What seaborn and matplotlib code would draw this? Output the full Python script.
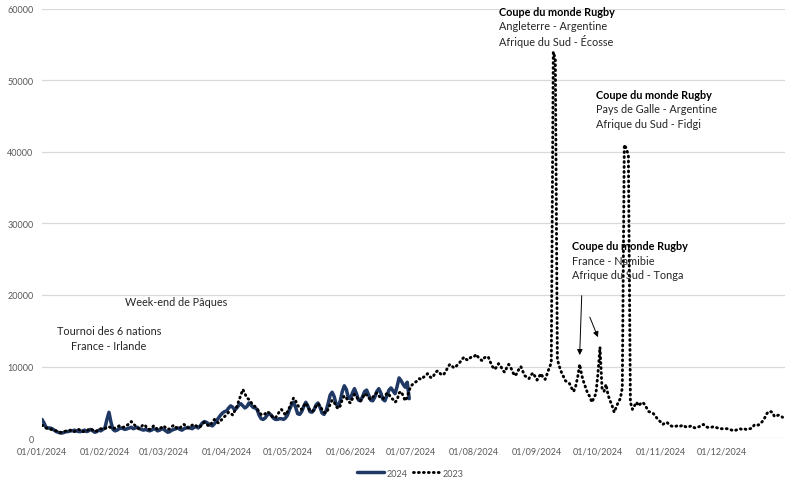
import pandas as pd
import numpy as np
import seaborn as sns
import matplotlib.pyplot as plt
import matplotlib.dates as mdates
from matplotlib.lines import Line2D

# daily values, one list per month (2024 axis)
v2024_jan = [2600, 2100, 1500, 1400, 1400, 1300, 1100, 900, 800, 700, 700, 800, 900, 900, 1000, 1000,
             1100, 1000, 900, 900, 1000, 1100, 900, 1000, 1200, 1000, 800, 900, 1100, 1000, 1200]
v2024_feb = [1400, 2600, 3600, 2200, 1200, 1000, 1100, 1300, 1400, 1300, 1200, 1300, 1400, 1500, 1300,
             1400, 1500, 1300, 1200, 1100, 1200, 1100, 1000, 1100, 1300, 1200, 1000, 1100, 1300]
v2024_mar = [1200, 1000, 800, 900, 1100, 1200, 1300, 1400, 1200, 1100, 1300, 1400, 1500, 1400, 1300, 1500,
             1600, 1400, 1700, 2100, 2300, 2200, 2000, 1800, 1700, 2000, 2400, 2800, 3200, 3500, 3700]
v2024_apr = [3800, 4200, 4500, 4300, 3900, 4200, 4600, 4800, 4500, 4200, 4400, 4900, 4600, 4300, 4200,
             4000, 3200, 2700, 2600, 2800, 3200, 3400, 3200, 2800, 2600, 2600, 2700, 2700, 2600, 2800]
v2024_may = [3200, 4000, 4600, 5000, 4300, 3400, 3300, 3700, 4400, 5000, 4500, 3700, 3600, 3900, 4600, 4900,
             4300, 3500, 3300, 3800, 4800, 6000, 6400, 5800, 4700, 4500, 5200, 6500, 7300, 6800, 5600]
v2024_jun = [5500, 6300, 6900, 6200, 5300, 5200, 5800, 6500, 6700, 6000, 5300, 5200, 5700, 6500, 6900,
             6300, 5400, 5200, 5900, 6700, 7000, 6600, 6200, 7200, 8400, 8000, 7500, 7100, 7800, 5500]

v2023_jan = [1800, 1600, 1400, 1300, 1200, 1200, 1100, 1000, 900, 800, 800, 900, 1000, 1000, 1100, 900,
             900, 1000, 1200, 1100, 900, 900, 1000, 1200, 1300, 1100, 900, 1000, 1200, 1300, 1200]
v2023_feb = [1300, 1500, 1600, 1400, 1300, 1400, 1500, 1700, 1600, 1500, 1600, 1800, 2000, 2300, 2000,
             1700, 1400, 1300, 1600, 1900, 1700, 1300, 1200, 1400, 1700, 1500, 1200, 1300, 1500]
v2023_mar = [1700, 1400, 1200, 1300, 1600, 1800, 1500, 1300, 1400, 1700, 1900, 1600, 1400, 1500, 1800, 1900,
             1700, 1500, 1600, 1900, 2200, 2000, 1700, 1800, 2300, 2600, 2300, 2100, 2400, 2700, 3000]
v2023_apr = [3300, 3600, 3500, 3200, 3800, 4400, 5200, 6000, 6800, 6200, 5600, 5400, 5000, 4600, 4400,
             4100, 3600, 3300, 3200, 3400, 3700, 3500, 3100, 2900, 2800, 3200, 3700, 4000, 3600, 3200]
v2023_may = [3700, 4300, 5000, 5600, 5200, 4600, 4200, 4000, 4500, 4900, 4400, 3900, 3700, 3900, 4400, 4800,
             4500, 4000, 3600, 3500, 4000, 4700, 5300, 5000, 4400, 4100, 4500, 5400, 5900, 5600, 5100]
v2023_jun = [4900, 5500, 6100, 5800, 5300, 5200, 5600, 6200, 6000, 5600, 5400, 5700, 6100, 6300, 5900,
             5600, 5500, 5800, 6300, 6100, 5600, 5400, 5000, 5300, 6300, 6500, 5900, 5200, 5700, 6700]
v2023_jul = [7300, 7600, 7800, 8000, 8300, 8200, 8500, 8700, 9000, 8600, 8400, 8700, 9200, 9400, 9100, 8800,
             8900, 9300, 9900, 10300, 10100, 9800, 10000, 10300, 10600, 11000, 11300, 11000, 10900, 11200, 11400]
v2023_aug = [11400, 11700, 11300, 11000, 10800, 11200, 11400, 11300, 10600, 10000, 9600, 9900, 10400, 10100,
             9500, 9200, 9800, 10300, 9900, 9200, 8700, 9000, 9600, 10000, 9300, 8700, 8500, 8300, 8800, 9100, 8600]
v2023_sep = [8100, 8600, 9000, 8400, 8200, 9000, 9800, 10500, 54000, 53000, 11000, 10000, 9200, 8600, 8000,
             7800, 7600, 7000, 6500, 7200, 8500, 10300, 8800, 7800, 7000, 6200, 5800, 5000, 5600, 6200]
v2023_oct = [9000, 12700, 7000, 6500, 7500, 6000, 5200, 4500, 3600, 4300, 5000, 5500, 7000, 41000, 40500,
             39500, 5000, 4000, 4500, 5000, 4500, 4800, 5000, 4700, 4200, 3700, 3600, 3500, 3200, 2800, 2500]
v2023_nov = [2200, 1900, 2100, 2200, 1900, 1700, 1600, 1600, 1700, 1600, 1700, 1800, 1600, 1500, 1600,
             1700, 1500, 1400, 1500, 1600, 1800, 1900, 1600, 1500, 1500, 1500, 1600, 1500, 1400, 1300]
v2023_dec = [1300, 1300, 1300, 1300, 1200, 1100, 1000, 1100, 1200, 1300, 1200, 1300, 1200, 1300, 1300, 1400,
             1800, 1900, 1800, 2000, 2300, 2700, 3300, 3700, 3700, 3600, 3000, 3100, 3200, 3100, 2900]

values_2024 = v2024_jan + v2024_feb + v2024_mar + v2024_apr + v2024_may + v2024_jun
values_2023 = (v2023_jan + v2023_feb + v2023_mar + v2023_apr + v2023_may + v2023_jun +
               v2023_jul + v2023_aug + v2023_sep + v2023_oct + v2023_nov + v2023_dec)

df = pd.concat([
    pd.DataFrame({'date': pd.date_range('2024-01-01', periods=len(values_2024)),
                  'value': values_2024, 'serie': '2024'}),
    pd.DataFrame({'date': pd.date_range('2024-01-01', periods=len(values_2023)),
                  'value': values_2023, 'serie': '2023'}),
])

sns.set_style('white')
plt.rcParams['font.family'] = ['Lato', 'DejaVu Sans']

navy = '#1f3864'
dots = (0.3, 1.4)

fig = plt.figure(figsize=(7.85, 4.81), dpi=100)
ax = fig.add_axes([0.0535, 0.0873, 0.946, 0.892])

sns.lineplot(data=df, x='date', y='value', hue='serie', style='serie',
             hue_order=['2024', '2023'], style_order=['2024', '2023'],
             palette={'2024': navy, '2023': 'black'},
             dashes={'2024': '', '2023': dots}, linewidth=2.1, ax=ax, legend=False)
for ln in ax.get_lines():
    ln.set_dash_capstyle('round')
ax.get_lines()[0].set_linewidth(2.5)

ax.set_xlim(pd.Timestamp('2024-01-01'), pd.Timestamp('2025-01-01'))
ax.set_ylim(0, 60000)
ax.set_yticks(range(0, 60001, 10000))
ax.set_xticks(pd.date_range('2024-01-01', '2024-12-01', freq='MS'))
ax.xaxis.set_major_formatter(mdates.DateFormatter('%d/%m/%Y'))
ax.tick_params(axis='both', length=0, labelsize=6.5, colors='#595959', pad=6)
ax.yaxis.grid(True, color='#d9d9d9', linewidth=0.9)
ax.set_xlabel('')
ax.set_ylabel('')
for s in ax.spines.values():
    s.set_visible(False)

# annotations
tc = '#262626'
fs = 7.8
step = 2030
ax.text(pd.Timestamp('2024-02-03'), 15000, 'Tournoi des 6 nations', ha='center', va='center', fontsize=fs, color=tc)
ax.text(pd.Timestamp('2024-02-03'), 15000 - step, 'France - Irlande', ha='center', va='center', fontsize=fs, color=tc)
ax.text(pd.Timestamp('2024-02-11'), 19100, 'Week-end de Pâques', ha='left', va='center', fontsize=fs, color=tc)

rugby = [
    ('2024-08-13', 59700, 'Angleterre - Argentine', 'Afrique du Sud - Écosse'),
    ('2024-09-30', 48100, 'Pays de Galle - Argentine', 'Afrique du Sud - Fidgi'),
    ('2024-09-18', 26900, 'France - Namibie', 'Afrique du Sud - Tonga'),
]
for d, y, l1, l2 in rugby:
    ax.text(pd.Timestamp(d), y, 'Coupe du monde Rugby', ha='left', va='center',
            fontsize=fs, fontweight='bold', color='black')
    ax.text(pd.Timestamp(d), y - step, l1, ha='left', va='center', fontsize=fs, color=tc)
    ax.text(pd.Timestamp(d), y - 2 * step, l2, ha='left', va='center', fontsize=fs, color=tc)

ax.annotate('', xy=(pd.Timestamp('2024-09-22'), 11600), xytext=(pd.Timestamp('2024-09-23'), 19900),
            arrowprops=dict(arrowstyle='-|>', color='black', lw=0.7, mutation_scale=8,
                            shrinkA=0, shrinkB=0))
ax.annotate('', xy=(pd.Timestamp('2024-10-01'), 14100), xytext=(pd.Timestamp('2024-09-27'), 16900),
            arrowprops=dict(arrowstyle='-|>', color='black', lw=0.7, mutation_scale=8,
                            shrinkA=0, shrinkB=0))

# legend
handles = [Line2D([], [], color=navy, lw=2.5),
           Line2D([], [], color='black', lw=2.1, linestyle=(0, dots), dash_capstyle='round')]
fig.legend(handles, ['2024', '2023'], loc='lower center', bbox_to_anchor=(0.523, -0.012),
           ncol=2, frameon=False, fontsize=6.5, labelcolor='#595959',
           handlelength=3.0, columnspacing=0.6, handletextpad=0.3)

fig.savefig('out.png', dpi=100)
